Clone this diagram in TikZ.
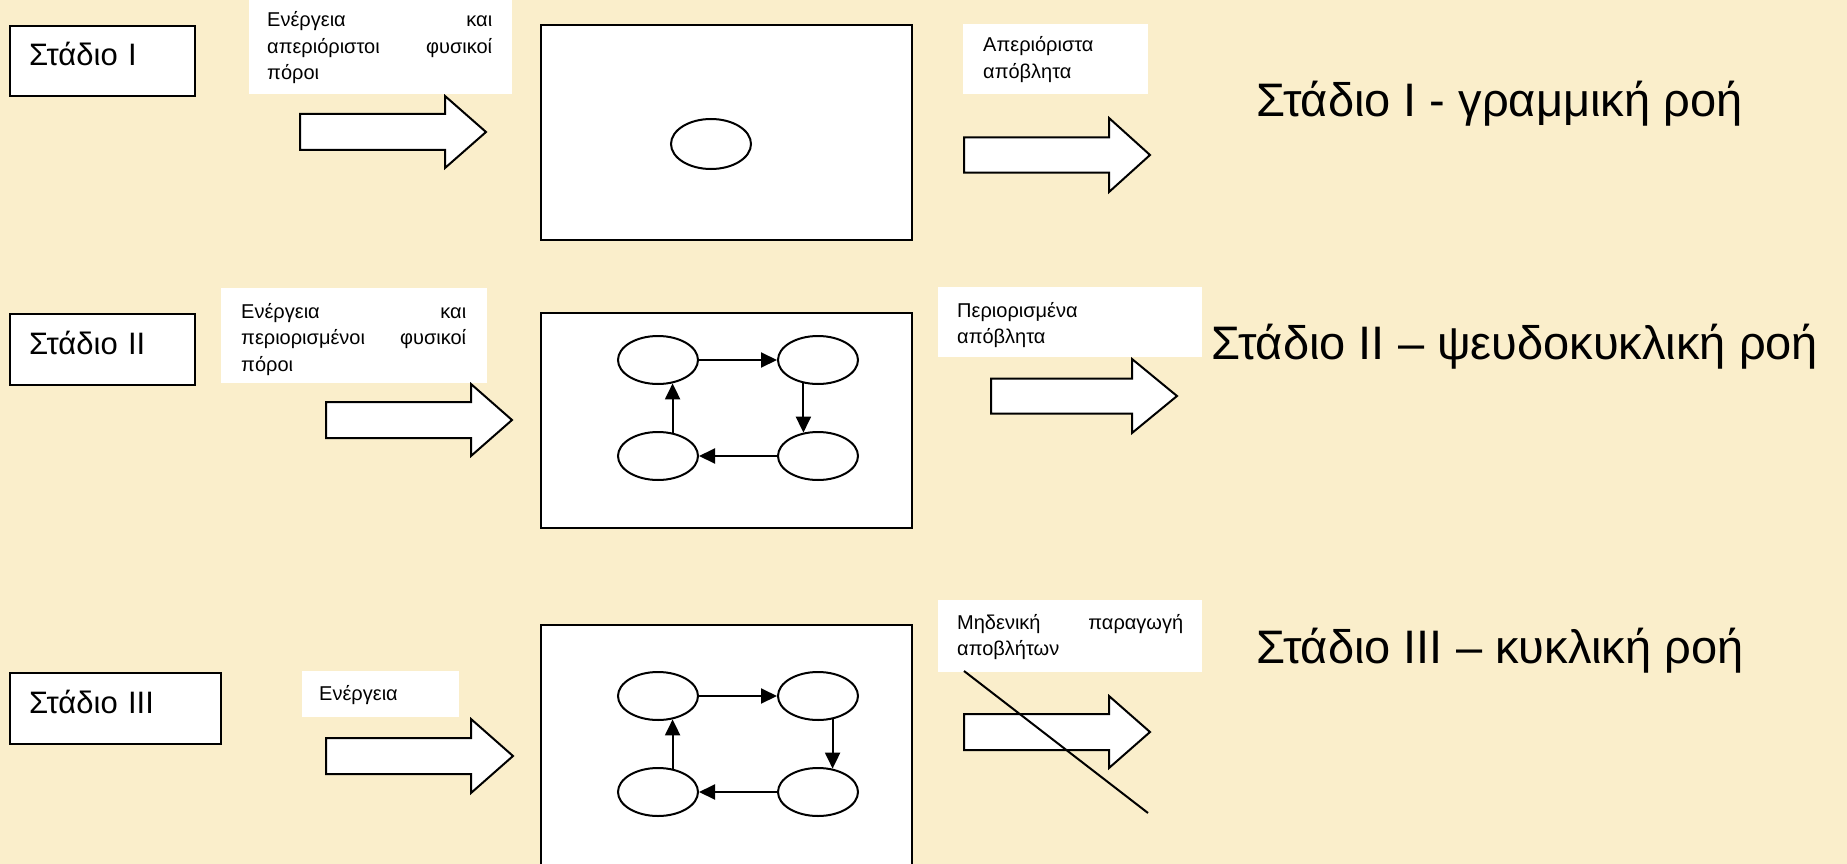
\documentclass[tikz,border=0pt]{standalone}
\usepackage{fontspec}
\setmainfont{Liberation Sans}
\usetikzlibrary{shapes.geometric,arrows.meta}
\definecolor{parchment}{RGB}{250,238,203}

% block arrow: start x, head x, tip x, centre y, half shaft, half head
\newcommand{\blockarrow}[6]{%
  \draw[blockarrow] ({#1},{#4-#5}) -- ({#2},{#4-#5}) -- ({#2},{#4-#6}) -- ({#3},{#4})
    -- ({#2},{#4+#6}) -- ({#2},{#4+#5}) -- ({#1},{#4+#5}) -- cycle;}

\begin{document}
\begin{tikzpicture}[x=1pt,y=-1pt,
  stagebox/.style={draw, line width=2pt, fill=white, anchor=north west,
    font=\fontsize{31}{37}\selectfont, align=left, inner xsep=19pt, inner ysep=0pt,
    text height=20pt, text depth=10pt},
  whitebox/.style={fill=white, anchor=north west, inner sep=0pt},
  note/.style={anchor=base west, inner sep=0pt, font=\fontsize{20}{26.5}\selectfont},
  bigbox/.style={draw, line width=2.2pt, fill=white, anchor=north west, inner sep=0pt},
  cell/.style={draw, ellipse, line width=2pt, minimum width=80pt, minimum height=48pt, inner sep=0pt},
  flow/.style={line width=2pt, -{Triangle[length=16pt,width=15pt]}},
  blockarrow/.style={draw, line width=2pt, fill=white, line join=miter},
  title/.style={anchor=base west, font=\fontsize{47}{56}\selectfont, inner sep=0pt}]

\useasboundingbox (0,0) rectangle (1847,864);
\fill[parchment] (0,0) rectangle (1847,864);

% ---------------- Stage I: linear flow ----------------
\node[stagebox, minimum width=185pt, minimum height=70pt, text width=147pt] (s1) at (9,25) {Στάδιο I};
\node[whitebox, minimum width=263pt, minimum height=96pt] (in1) at (249,-2) {};
\node[note, text width=225pt, align=justify] (in1t) at (267,27)
  {Ενέργεια και\linebreak απεριόριστοι φυσικοί\linebreak πόροι};
\blockarrow{300}{445}{486}{132}{18}{36}
\node[bigbox, minimum width=371pt, minimum height=215pt] (p1) at (540,24) {};
\node[cell, minimum height=50pt] (c1) at (711,144) {};
\node[whitebox, minimum width=185pt, minimum height=70pt] (out1) at (963,24) {};
\node[note, text width=160pt, align=left] (out1t) at (983,52) {Απεριόριστα\\απόβλητα};
\blockarrow{964}{1109}{1150}{155}{17.5}{37}
\node[title] (t1) at (1256,117) {Στάδιο I - γραμμική ροή};

% ---------------- Stage II: quasi-cyclic flow ----------------
\node[stagebox, minimum width=185pt, minimum height=71pt, text width=147pt] (s2) at (9,313) {Στάδιο II};
\node[whitebox, minimum width=266pt, minimum height=95pt] (in2) at (221,288) {};
\node[note, text width=225pt, align=justify] (in2t) at (241,318)
  {Ενέργεια και\linebreak περιορισμένοι φυσικοί\linebreak πόροι};
\blockarrow{326}{471}{512}{420}{18}{36}
\node[bigbox, minimum width=371pt, minimum height=215pt] (p2) at (540,312) {};
\node[cell] (a2) at (658,360) {};
\node[cell] (b2) at (818,360) {};
\node[cell] (c2) at (818,456) {};
\node[cell] (d2) at (658,456) {};
\draw[flow] (a2) -- (b2);
\draw[flow] (b2.238) -- (c2.122);
\draw[flow] (c2) -- (d2);
\draw[flow] (d2.58) -- (a2.302);
\node[whitebox, minimum width=264pt, minimum height=70pt] (out2) at (938,287) {};
\node[note, text width=230pt, align=left] (out2t) at (957,317) {Περιορισμένα\\απόβλητα};
\blockarrow{991}{1132}{1177}{396}{17.5}{37}
\node[title] (t2) at (1211,359) {Στάδιο II – ψευδοκυκλική ροή};

% ---------------- Stage III: cyclic flow ----------------
\node[stagebox, minimum width=211pt, minimum height=71pt, text width=173pt] (s3) at (9,672) {Στάδιο III};
\node[whitebox, minimum width=157pt, minimum height=46pt] (in3) at (302,671) {};
\node[note] (in3t) at (319,700) {Ενέργεια};
\blockarrow{326}{471}{513}{756}{18}{37}
\node[bigbox, minimum width=371pt, minimum height=260pt] (p3) at (540,624) {};
\node[cell] (a3) at (658,696) {};
\node[cell] (b3) at (818,696) {};
\node[cell] (c3) at (818,792) {};
\node[cell] (d3) at (658,792) {};
\draw[flow] (a3) -- (b3);
\draw[flow] (b3.302) -- (c3.58);
\draw[flow] (c3) -- (d3);
\draw[flow] (d3.58) -- (a3.302);
\node[whitebox, minimum width=264pt, minimum height=72pt] (out3) at (938,600) {};
\node[note, text width=226pt, align=justify] (out3t) at (957,629)
  {Μηδενική παραγωγή\linebreak αποβλήτων};
\blockarrow{964}{1109}{1150}{732}{18}{36}
\coordinate (x1) at (964,671);
\coordinate (x2) at (1148,813);
\draw[line width=2pt] (x1) -- (x2);
\node[title] (t3) at (1256,663) {Στάδιο III – κυκλική ροή};

\end{tikzpicture}
\end{document}
